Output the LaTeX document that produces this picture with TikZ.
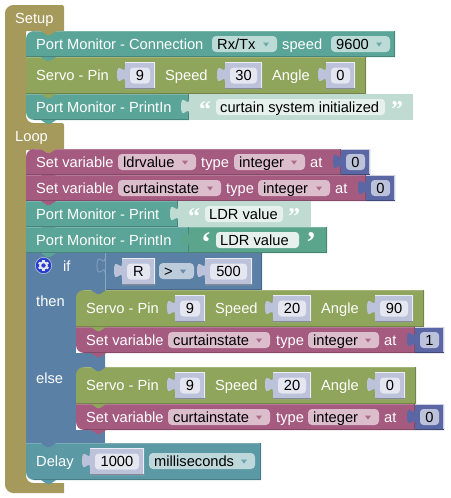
\documentclass[tikz,border=0pt]{standalone}
\usepackage{fontspec}
\setmainfont{Liberation Sans}
\newfontfamily\quotefont{Liberation Serif}
\definecolor{cHat}{HTML}{A59A5B}
\definecolor{cPort}{HTML}{5BA598}
\definecolor{cServo}{HTML}{8FA55B}
\definecolor{cVar}{HTML}{A55B80}
\definecolor{cNum}{HTML}{5B67A5}
\definecolor{cIf}{HTML}{5B80A5}
\definecolor{cDelay}{HTML}{5B9AA5}
\definecolor{cStr}{HTML}{5BA58C}
\definecolor{cLav}{HTML}{BDC2DB}
\definecolor{cLavF}{HTML}{E4E6F0}
\definecolor{cStrL}{HTML}{BFDBD2}
\definecolor{cStrF}{HTML}{E6F1EE}
\definecolor{cPortD}{HTML}{BDDBD6}
\definecolor{cVarD}{HTML}{DBBDCC}
\definecolor{cIfD}{HTML}{BDCCDB}
\definecolor{cDelD}{HTML}{BDD7DB}
\definecolor{cGear}{HTML}{2A3BD0}
\newcounter{nn}
\tikzset{lbl/.style={anchor=base west,inner sep=0pt,text=white,font=\fontsize{14.67}{16}\selectfont},
 val/.style={anchor=base,inner sep=0pt,text=black,font=\fontsize{14.67}{16}\selectfont},
 ddtxt/.style={anchor=base west,inner sep=0pt,text=black,font=\fontsize{14.67}{16}\selectfont},
 qt/.style={anchor=base west,inner sep=0pt,text=white,font=\quotefont\bfseries\fontsize{24}{24}\selectfont},
 qs/.style={anchor=base west,inner sep=0pt,text=white,font=\quotefont\bfseries\fontsize{30}{30}\selectfont}}
\newcommand{\lab}[3]{\stepcounter{nn}\node[lbl,name=t\arabic{nn}] at (#1,#2) {#3};}
\newcommand{\blk}[7]{%
 \fill[#5] (#1,{#2+#6}) .. controls (#1,{#2+#6*.45}) and ({#1+#6*.45},#2) .. ({#1+#6},#2) -- (#3,#2) -- (#3,#4) -- ({#1+#7},#4) .. controls ({#1+#7*.45},#4) and (#1,{#4-#7*.45}) .. (#1,{#4-#7}) -- cycle;
 \draw[#5!82!white,line width=.8pt] ({#1+#6},{#2+.4}) -- ({#3-.4},{#2+.4});
 \draw[#5!80!black,line width=.9pt] ({#3-.4},{#2+.4}) -- ({#3-.4},{#4-.4}) -- ({#1+#7},{#4-.4});}
\newcommand{\tabd}[3]{\fill[#3] ({#1+15},#2) -- ({#1+21},{#2+4}) -- ({#1+24},{#2+4}) -- ({#1+30},#2) -- cycle;}
\newcommand{\num}[7]{%
 \fill[#5] (#1,#3) -- (#2,#3) -- (#2,{#3+#4}) -- (#1,{#3+#4}) -- (#1,{#3+20})
  .. controls (#1,{#3+10}) and ({#1-8},{#3+28}) .. ({#1-8},{#3+12.5})
  .. controls ({#1-8},{#3-3}) and (#1,{#3+15}) .. (#1,{#3+5}) -- cycle;
 \draw[white!70!#5,line width=.7pt] (#1,{#3+.4}) -- ({#2-.4},{#3+.4}) -- ({#2-.4},{#3+#4-.4});
 \draw[#5!70!black,line width=.6pt] (#1,{#3+#4-.3}) -- (#2,{#3+#4-.3});
 \fill[#6,rounded corners=3.5pt] ({#1+5},{#3+(#4-16)/2}) rectangle ({#2-5},{#3+(#4-16)/2+16});
 \stepcounter{nn}\node[val,name=t\arabic{nn}] at ({(#1+#2)/2},{#3+(#4-16)/2+13}) {#7};}
\newcommand{\dd}[6]{%
 \fill[#4,rounded corners=4pt] (#1,#3) rectangle (#2,{#3+16});
 \fill[#5!85!#4] ({#2-14},{#3+6.5}) -- ({#2-8},{#3+6.5}) -- ({#2-11},{#3+10.5}) -- cycle;
 \stepcounter{nn}\node[ddtxt,name=t\arabic{nn}] at ({#1+5},{#3+13}) {#6};}
\newcommand{\strf}[4]{%
 \fill[cStrF,rounded corners=3.5pt] (#1,#3) rectangle (#2,{#3+16});
 \stepcounter{nn}\node[ddtxt,name=t\arabic{nn}] at ({#1+4},{#3+13}) {#4};}
\newcommand{\sockets}[3]{%
 \fill[#3] (#1,{#2+5}) .. controls (#1,{#2+15}) and ({#1-8},{#2-3}) .. ({#1-8},{#2+12.5})
  .. controls ({#1-8},{#2+28}) and (#1,{#2+10}) .. (#1,{#2+20}) -- cycle;}
\newcommand{\qtxt}[3]{\stepcounter{nn}\node[qt,name=t\arabic{nn}] at (#1,#2) {#3};}
\newcommand{\qsng}[3]{\stepcounter{nn}\node[qs,name=t\arabic{nn}] at (#1,#2) {#3};}
\begin{document}
\begin{tikzpicture}[x=1pt,y=-1pt]
\useasboundingbox (0,0) rectangle (450,498);
\fill[cHat] (5,13) .. controls (5,9) and (9,5) .. (13,5) -- (62,5) .. controls (63,5) and (64,6) .. (64,7) -- (64,31) -- (26,31) -- (26,115) .. controls (26,120) and (29,123) .. (34,123) -- (62,123) .. controls (63,123) and (64,124) .. (64,125) -- (64,150) -- (26,150) -- (26,475) .. controls (26,480) and (29,483) .. (34,483) -- (64,483) -- (64,493) -- (13,493) .. controls (9,493) and (5,489) .. (5,485) -- cycle;
\lab{15}{23}{Setup}
\lab{15}{141}{Loop}
\blk{26}{31}{395}{57}{cPort}{8}{0}
\tabd{26}{31}{cHat}
\lab{36}{49}{Port Monitor - Connection}
\dd{212}{277}{36}{cPortD}{cPort}{Rx/Tx}
\lab{282}{49}{speed}
\dd{331}{390}{36}{cPortD}{cPort}{9600}
\blk{26}{57}{366}{94}{cServo}{0}{0}
\tabd{26}{57}{cPort}
\lab{36}{80}{Servo - Pin}
\num{125}{155}{62}{27}{cLav}{cLavF}{9}
\lab{165}{80}{Speed}
\num{225}{262}{62}{27}{cLav}{cLavF}{30}
\lab{272}{80}{Angle}
\num{326}{355}{62}{27}{cLav}{cLavF}{0}
\blk{26}{94}{189}{120}{cPort}{0}{8}
\tabd{26}{94}{cServo}
\tabd{26}{120}{cPort}
\lab{36}{112}{Port Monitor - PrintIn}
\fill[cStrL] (189,94) rectangle (413,120);
\sockets{189}{94}{cStrL}
\qtxt{199}{117}{“}
\strf{216}{385}{99}{curtain system initialized}
\qtxt{391}{117}{”}
\blk{26}{149}{341}{175}{cVar}{8}{0}
\tabd{26}{149}{cHat}
\lab{36}{167}{Set variable}
\dd{118}{196}{154}{cVarD}{cVar}{ldrvalue}
\lab{201}{167}{type}
\dd{234}{305}{154}{cVarD}{cVar}{integer}
\lab{310}{167}{at}
\num{341}{370}{149}{26}{cNum}{cLav}{0}
\blk{26}{175}{366}{201}{cVar}{0}{0}
\tabd{26}{175}{cVar}
\lab{36}{193}{Set variable}
\dd{118}{221}{180}{cVarD}{cVar}{curtainstate}
\lab{226}{193}{type}
\dd{258}{330}{180}{cVarD}{cVar}{integer}
\lab{335}{193}{at}
\num{366}{395}{175}{26}{cNum}{cLav}{0}
\blk{26}{201}{178}{227}{cPort}{0}{0}
\tabd{26}{201}{cVar}
\lab{36}{219}{Port Monitor - Print}
\fill[cStrL] (178,201) rectangle (311,227);
\sockets{178}{201}{cStrL}
\qtxt{188}{224}{“}
\strf{205}{283}{206}{LDR value}
\qtxt{288}{224}{”}
\blk{26}{227}{189}{253}{cPort}{0}{0}
\tabd{26}{227}{cPort}
\lab{36}{245}{Port Monitor - PrintIn}
\blk{189}{227}{327}{253}{cStr}{0}{0}
\sockets{189}{227}{cStr}
\qsng{201}{252}{‘}
\strf{216}{299}{232}{LDR value}
\qsng{306}{252}{’}
\fill[cIf] (26,253) -- (262,253) -- (262,290) -- (105,290) -- (105,443) -- (26,443) -- cycle;
\draw[cIf!80!black,line width=.9pt] (261.6,253) -- (261.6,289.6) -- (105,289.6);
\tabd{26}{253}{cPort}
\draw[cIf!70!white,line width=.7pt] (105,253) -- (105,290);
\fill[cIf] (105,258) .. controls (105,268) and (97,250) .. (97,265.5) .. controls (97,281) and (105,263) .. (105,273) -- cycle;
\draw[cIf!70!white,line width=.7pt] (105,258) .. controls (105,268) and (97,250) .. (97,265.5) .. controls (97,281) and (105,263) .. (105,273);
% gear
\fill[cGear] (43.5,265.5) circle (7.9);
\draw[cIf!55!white,line width=.7pt] (43.5,265.5) circle (8.2);
\foreach \a in {0,60,...,300}{\fill[cLavF,rotate around={\a:(43.5,265.5)}] (42.4,259.9) rectangle (44.6,262);}
\fill[cLavF] (43.5,265.5) circle (4.4);
\fill[cGear] (43.5,265.5) circle (2.2);
\lab{63}{271}{if}
\lab{36}{306}{then}
\lab{36}{383}{else}
\num{122}{155}{258}{27}{cLav}{cLavF}{R}
\dd{159}{194}{263}{cIfD}{cIf}{>}
\num{205}{252}{258}{27}{cLav}{cLavF}{500}
\fill[white] (105,290.4) rectangle (450,353);
\fill[white] (105,367) rectangle (450,443);
\blk{76}{290}{424}{327}{cServo}{8}{0}
\tabd{76}{290}{cIf}
\lab{86}{313}{Servo - Pin}
\num{175}{205}{295}{27}{cLav}{cLavF}{9}
\lab{215}{313}{Speed}
\num{273}{311}{295}{27}{cLav}{cLavF}{20}
\lab{321}{313}{Angle}
\num{375}{413}{295}{27}{cLav}{cLavF}{90}
\fill[white] (76,345) rectangle (85,353);
\blk{76}{327}{415}{353}{cVar}{0}{8}
\tabd{76}{327}{cServo}
\tabd{76}{353}{cVar}
\lab{86}{345}{Set variable}
\dd{168}{270}{332}{cVarD}{cVar}{curtainstate}
\lab{276}{345}{type}
\dd{308}{379}{332}{cVarD}{cVar}{integer}
\lab{384}{345}{at}
\num{415}{444}{327}{26}{cNum}{cLav}{1}
\blk{76}{367}{416}{404}{cServo}{8}{0}
\tabd{76}{367}{cIf}
\lab{86}{390}{Servo - Pin}
\num{175}{205}{372}{27}{cLav}{cLavF}{9}
\lab{215}{390}{Speed}
\num{273}{311}{372}{27}{cLav}{cLavF}{20}
\lab{321}{390}{Angle}
\num{375}{405}{372}{27}{cLav}{cLavF}{0}
\fill[white] (76,422) rectangle (85,430);
\blk{76}{404}{415}{430}{cVar}{0}{8}
\tabd{76}{404}{cServo}
\tabd{76}{430}{cVar}
\lab{86}{422}{Set variable}
\dd{168}{270}{409}{cVarD}{cVar}{curtainstate}
\lab{276}{422}{type}
\dd{308}{379}{409}{cVarD}{cVar}{integer}
\lab{384}{422}{at}
\num{415}{444}{404}{26}{cNum}{cLav}{0}
\blk{26}{443}{261}{480}{cDelay}{0}{8}
\tabd{26}{443}{cIf}
\tabd{26}{480}{cDelay}
\lab{36}{466}{Delay}
\num{90}{144}{448}{27}{cLav}{cLavF}{1000}
\dd{149}{255}{453}{cDelD}{cDelay}{milliseconds}
\end{tikzpicture}
\end{document}
